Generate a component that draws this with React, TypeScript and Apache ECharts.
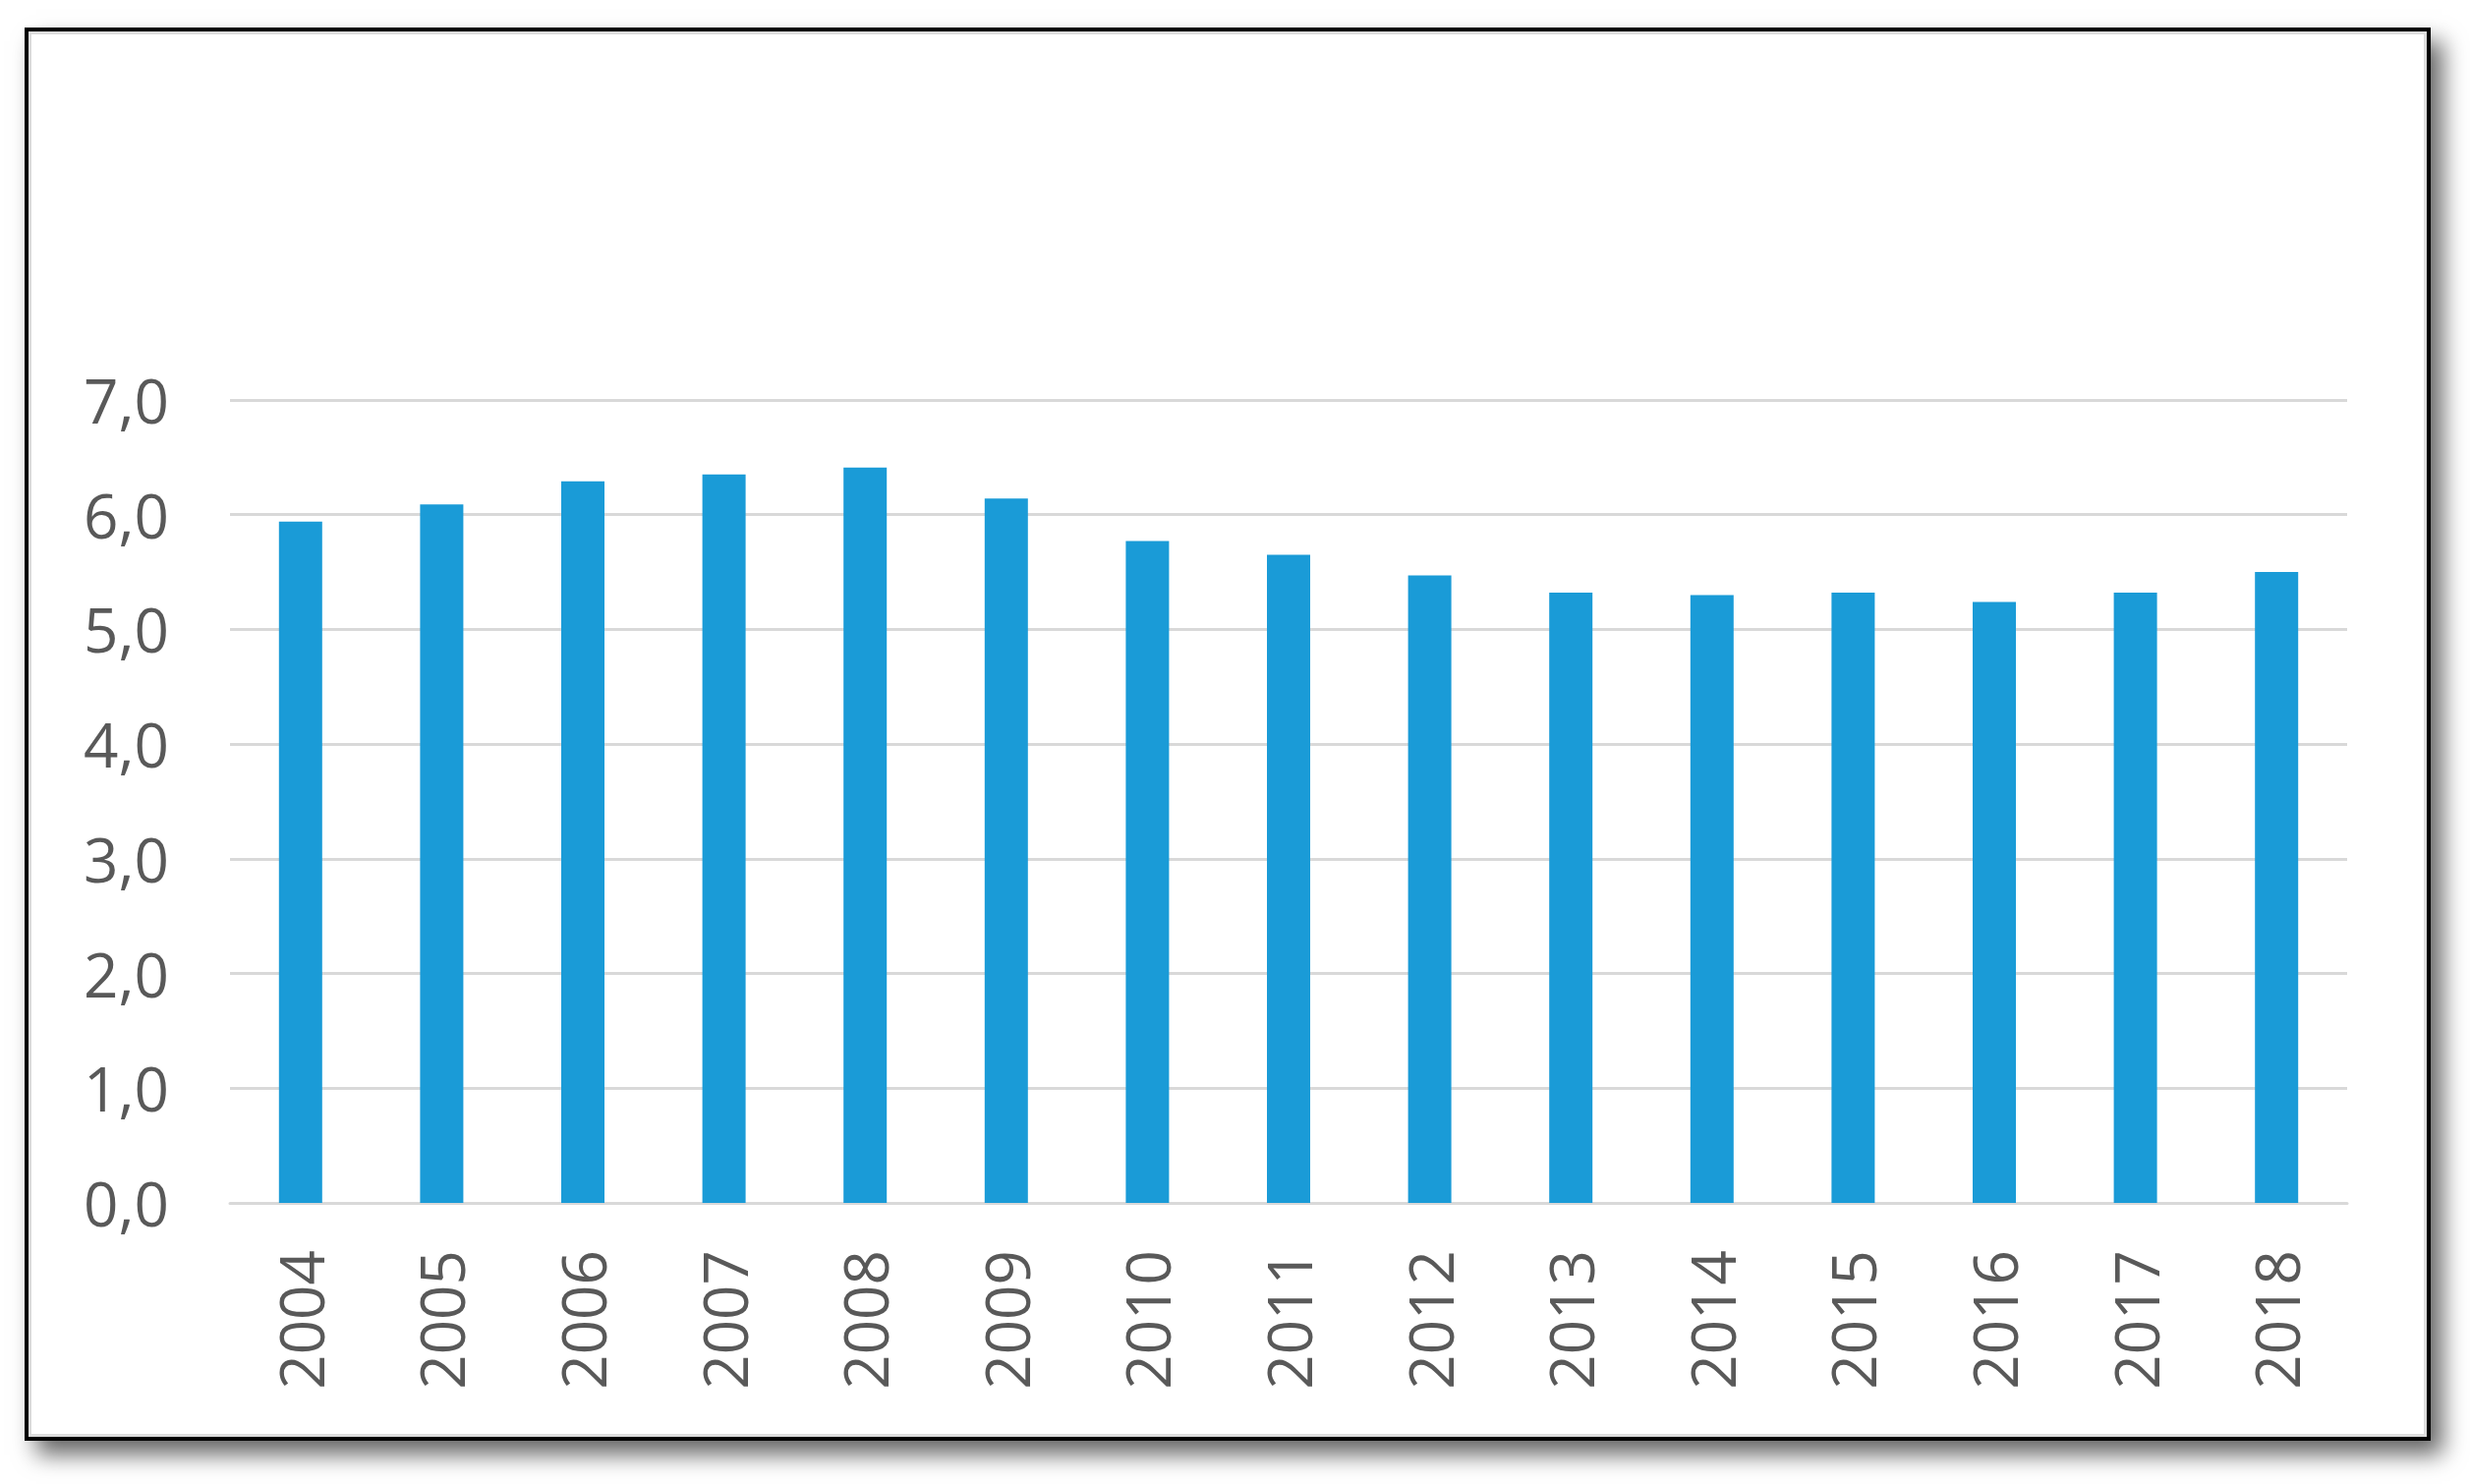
import React, { useEffect, useRef } from "react";
import * as echarts from "echarts";

const years = ["2004", "2005", "2006", "2007", "2008", "2009", "2010", "2011", "2012", "2013", "2014", "2015", "2016", "2017", "2018"];
const values = [5.94, 6.09, 6.29, 6.35, 6.41, 6.14, 5.77, 5.65, 5.47, 5.32, 5.3, 5.32, 5.24, 5.32, 5.5];

const W = 2513;
const H = 1510;

export default function App() {
  const ref = useRef<HTMLDivElement>(null);
  useEffect(() => {
    if (!ref.current) return;
    const chart = echarts.init(ref.current, undefined, { renderer: "svg" });
    chart.setOption({
      animation: false,
      grid: { left: 234, right: 125, top: 407, bottom: 286, containLabel: false },
      xAxis: {
        type: "category",
        data: years,
        axisLine: { show: true, lineStyle: { color: "#d9d9d9", width: 3 } },
        axisTick: { show: false },
        axisLabel: {
          rotate: 90,
          margin: 48,
          color: "#595959",
          fontSize: 62,
          fontFamily: "Open Sans",
        },
      },
      yAxis: {
        type: "value",
        min: 0,
        max: 7,
        interval: 1,
        axisLine: { show: false },
        axisTick: { show: false },
        splitLine: { lineStyle: { color: "#d9d9d9", width: 3 } },
        axisLabel: {
          margin: 62,
          color: "#595959",
          fontSize: 62,
          fontFamily: "Open Sans",
          formatter: (v: number) => v.toFixed(1).replace(".", ","),
        },
      },
      series: [
        {
          type: "bar",
          data: values,
          barWidth: 44,
          itemStyle: { color: "#1a9bd7" },
        },
      ],
    });
    return () => chart.dispose();
  }, []);

  return (
    <div style={{ position: "absolute", left: 0, top: 0, width: W, height: H, background: "#ffffff", overflow: "hidden" }}>
      <div
        style={{
          position: "absolute",
          left: 25,
          top: 28,
          width: 2448,
          height: 1438,
          boxSizing: "border-box",
          border: "4px solid #000000",
          background: "#ffffff",
          boxShadow: "12px 14px 22px rgba(0,0,0,0.6), inset 0 0 0 3px #dcdcdc",
        }}
      />
      <div ref={ref} style={{ position: "absolute", left: 0, top: 0, width: W, height: H }} />
    </div>
  );
}
